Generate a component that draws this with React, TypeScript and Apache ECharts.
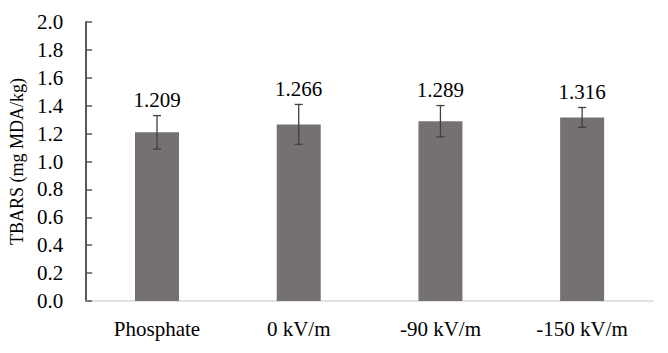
import React, { useEffect, useRef } from "react";
import * as echarts from "echarts";

const categories = ["Phosphate", "0 kV/m", "-90 kV/m", "-150 kV/m"];
const means = [1.209, 1.266, 1.289, 1.316];
const errors = [0.12, 0.143, 0.112, 0.071];
const yTicks = { min: 0, max: 2.0, interval: 0.2 };

const FONT = "Liberation Serif, serif";

export default function App() {
  const ref = useRef<HTMLDivElement>(null);
  useEffect(() => {
    if (!ref.current) return;
    const chart = echarts.init(ref.current, null, { renderer: "svg" });
    chart.setOption({
      animation: false,
      backgroundColor: "#ffffff",
      grid: { left: 86, right: 15, top: 22, bottom: 52, containLabel: false },
      xAxis: {
        type: "category",
        data: categories,
        axisLine: { show: true, lineStyle: { color: "#d9d9d9", width: 1.5 } },
        axisTick: { show: false },
        axisLabel: { color: "#000000", fontFamily: FONT, fontSize: 21, margin: 17 },
      },
      yAxis: {
        type: "value",
        min: yTicks.min,
        max: yTicks.max,
        interval: yTicks.interval,
        name: "TBARS (mg MDA/kg)",
        nameLocation: "middle",
        nameGap: 51,
        nameTextStyle: { color: "#000000", fontFamily: FONT, fontSize: 18 },
        axisLine: { show: true, lineStyle: { color: "#595959", width: 2 } },
        axisTick: { show: true, inside: true, length: 6, lineStyle: { color: "#595959", width: 1.5 } },
        axisLabel: {
          color: "#000000",
          fontFamily: FONT,
          fontSize: 21,
          margin: 23,
          formatter: (v: number) => v.toFixed(1),
        },
        splitLine: { show: false },
      },
      series: [
        {
          type: "bar",
          data: means,
          barWidth: 44,
          itemStyle: { color: "#767171" },
        },
        {
          type: "custom",
          data: means.map((m, i) => [i, m, errors[i]]),
          z: 10,
          renderItem: (params: any, api: any) => {
            const i = api.value(0);
            const m = api.value(1);
            const e = api.value(2);
            const top = api.coord([i, m + e]);
            const bot = api.coord([i, m - e]);
            const cap = 4;
            const style = { stroke: "#404040", lineWidth: 1.3 };
            return {
              type: "group",
              children: [
                { type: "line", shape: { x1: top[0], y1: top[1], x2: bot[0], y2: bot[1] }, style },
                { type: "line", shape: { x1: top[0] - cap, y1: top[1], x2: top[0] + cap, y2: top[1] }, style },
                { type: "line", shape: { x1: bot[0] - cap, y1: bot[1], x2: bot[0] + cap, y2: bot[1] }, style },
                {
                  type: "text",
                  x: top[0],
                  y: top[1] - 5,
                  style: {
                    text: m.toFixed(3),
                    fill: "#000000",
                    font: `21px ${FONT}`,
                    textAlign: "center",
                    textVerticalAlign: "bottom",
                  },
                },
              ],
            };
          },
        },
      ],
    });
    return () => chart.dispose();
  }, []);
  return <div ref={ref} style={{ width: 668, height: 353, margin: -8 }} />;
}
